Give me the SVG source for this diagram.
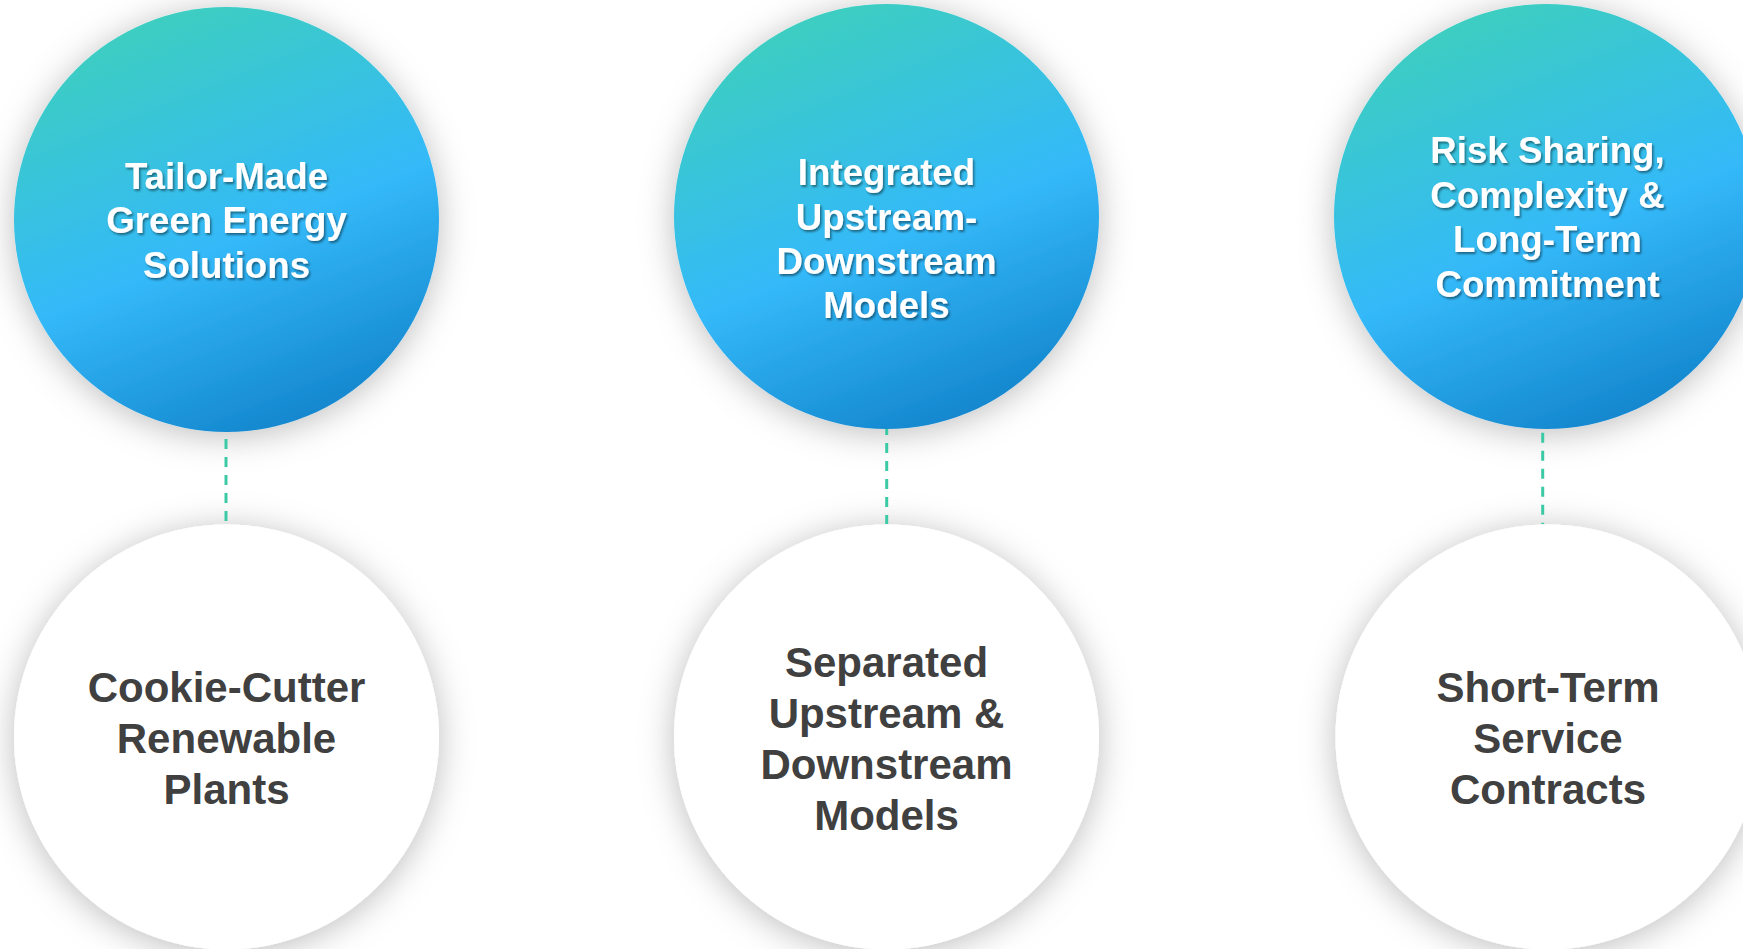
<svg xmlns="http://www.w3.org/2000/svg" width="1743" height="949" viewBox="0 0 1743 949">
  <defs>
    <linearGradient id="blueGrad" x1="0.3" y1="0" x2="0.7" y2="1">
      <stop offset="0" stop-color="#3dcfbd"/>
      <stop offset="0.55" stop-color="#34b9f9"/>
      <stop offset="1" stop-color="#1283cb"/>
    </linearGradient>
    <filter id="circleShadow" x="-30%" y="-30%" width="160%" height="160%">
      <feGaussianBlur in="SourceAlpha" stdDeviation="17"/>
      <feOffset dx="0" dy="4" result="b"/>
      <feFlood flood-color="#000" flood-opacity="0.26"/>
      <feComposite in2="b" operator="in"/>
      <feMerge>
        <feMergeNode/>
        <feMergeNode in="SourceGraphic"/>
      </feMerge>
    </filter>
    <filter id="textShadow" x="-10%" y="-20%" width="120%" height="140%">
      <feDropShadow dx="1.5" dy="2" stdDeviation="1" flood-color="#000" flood-opacity="0.45"/>
    </filter>
  </defs>
  <style>
    .top { fill: url(#blueGrad); }
    .bottom { fill: #ffffff; }
    .tt { font-family: "Liberation Sans", Arial, sans-serif; font-weight: bold; font-size: 36.7px; fill: #ffffff; text-anchor: middle; }
    .bt { font-family: "Liberation Sans", Arial, sans-serif; font-weight: bold; font-size: 42px; fill: #404040; text-anchor: middle; }
    .dash { stroke: #3cc9a6; stroke-width: 3; stroke-dasharray: 10 8; fill: none; }
  </style>
  <rect width="1743" height="949" fill="#ffffff"/>

  <g id="node-tailor-made">
    <circle class="top" cx="226.5" cy="219.5" r="212.5" filter="url(#circleShadow)"/>
    <g filter="url(#textShadow)">
      <text class="tt" x="226.5" y="189">Tailor-Made</text>
      <text class="tt" x="226.5" y="233">Green Energy</text>
      <text class="tt" x="226.5" y="277.5">Solutions</text>
    </g>
  </g>

  <g id="node-integrated">
    <circle class="top" cx="886.5" cy="216.5" r="212.5" filter="url(#circleShadow)"/>
    <g filter="url(#textShadow)">
      <text class="tt" x="886.5" y="185">Integrated</text>
      <text class="tt" x="886.5" y="229.5">Upstream-</text>
      <text class="tt" x="886.5" y="274">Downstream</text>
      <text class="tt" x="886.5" y="318">Models</text>
    </g>
  </g>

  <g id="node-risk-sharing">
    <circle class="top" cx="1546.5" cy="216.5" r="212.5" filter="url(#circleShadow)"/>
    <g filter="url(#textShadow)">
      <text class="tt" x="1547.5" y="163">Risk Sharing,</text>
      <text class="tt" x="1547.5" y="207.5">Complexity &amp;</text>
      <text class="tt" x="1547.5" y="252">Long-Term</text>
      <text class="tt" x="1547.5" y="296.5">Commitment</text>
    </g>
  </g>

  <g id="node-cookie-cutter">
    <circle class="bottom" cx="226.5" cy="737" r="212.5" filter="url(#circleShadow)"/>
    <text class="bt" x="226.5" y="701.5">Cookie-Cutter</text>
    <text class="bt" x="226.5" y="752.5">Renewable</text>
    <text class="bt" x="226.5" y="804">Plants</text>
  </g>

  <g id="node-separated">
    <circle class="bottom" cx="886.5" cy="737" r="212.5" filter="url(#circleShadow)"/>
    <text class="bt" x="886.5" y="676.5">Separated</text>
    <text class="bt" x="886.5" y="727.5">Upstream &amp;</text>
    <text class="bt" x="886.5" y="778.5">Downstream</text>
    <text class="bt" x="886.5" y="829.5">Models</text>
  </g>

  <g id="node-short-term">
    <circle class="bottom" cx="1548" cy="737" r="212.5" filter="url(#circleShadow)"/>
    <text class="bt" x="1548" y="701.5">Short-Term</text>
    <text class="bt" x="1548" y="752.5">Service</text>
    <text class="bt" x="1548" y="804">Contracts</text>
  </g>

  <g id="connectors">
    <line class="dash" x1="226" y1="439" x2="226" y2="524"/>
    <line class="dash" x1="886.7" y1="429" x2="886.7" y2="524" stroke-dashoffset="4"/>
    <line class="dash" x1="1542.7" y1="432.7" x2="1542.7" y2="524"/>
  </g>
</svg>
